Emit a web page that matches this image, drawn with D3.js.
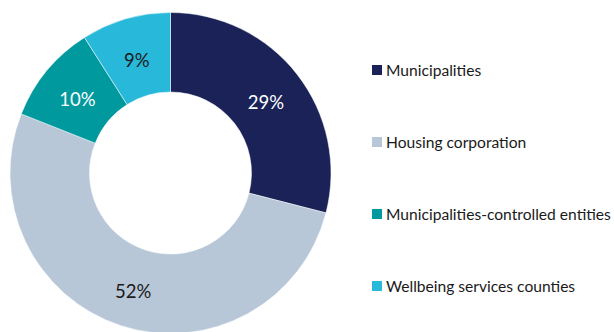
<!DOCTYPE html>
<html>
<head>
<meta charset="utf-8">
<script src="https://cdn.jsdelivr.net/npm/d3@7"></script>
<style>
  html, body { margin: 0; padding: 0; background: #ffffff; }
  svg { display: block; }
  text { font-family: Lato, "Open Sans", sans-serif; }
</style>
</head>
<body>
<svg id="chart" width="614" height="332"></svg>
<script>
// Share of investments by owner group (percent)
const categories = [
  "Municipalities",
  "Housing corporation",
  "Municipalities-controlled entities",
  "Wellbeing services counties"
];
const shares = [29, 52, 10, 9];
const colors = ["#1a2258", "#b8c7d7", "#00999d", "#28b8da"];
const labelColors = ["#ffffff", "#1a1a1a", "#ffffff", "#1a1a1a"];

const svg = d3.select("#chart");

const cx = 170.5, cy = 173;
const outerR = 160.5, innerR = 81;

const data = categories.map((c, i) => ({ name: c, value: shares[i], i }));

const pie = d3.pie()
  .value(d => d.value)
  .sort(null);

const arc = d3.arc().innerRadius(innerR).outerRadius(outerR);
const midR = (innerR + outerR) / 2;
const labelArc = d3.arc().innerRadius(midR).outerRadius(midR);

const color = d3.scaleOrdinal().domain(categories).range(colors);

const g = svg.append("g").attr("transform", `translate(${cx},${cy})`);
const arcs = pie(data);

g.selectAll("path.slice")
  .data(arcs)
  .join("path")
  .attr("class", "slice")
  .attr("d", arc)
  .attr("fill", d => color(d.data.name))
  .attr("stroke", "#ffffff")
  .attr("stroke-width", 0.5);

g.selectAll("text.value")
  .data(arcs)
  .join("text")
  .attr("class", "value")
  .attr("transform", d => {
    const [x, y] = labelArc.centroid(d);
    return `translate(${x},${y + 3})`;
  })
  .attr("text-anchor", "middle")
  .attr("dominant-baseline", "central")
  .attr("font-size", 18.5)
  .attr("fill", d => labelColors[d.data.i])
  .text(d => `${d.data.value}%`);

// Legend
const legendY = d3.scalePoint()
  .domain(categories)
  .range([70, 286]);

const legend = svg.append("g").attr("transform", "translate(372,0)");
const items = legend.selectAll("g.item")
  .data(categories)
  .join("g")
  .attr("class", "item")
  .attr("transform", d => `translate(0,${legendY(d)})`);

items.append("rect")
  .attr("x", 0)
  .attr("y", -5)
  .attr("width", 10)
  .attr("height", 10)
  .attr("fill", d => color(d));

items.append("text")
  .attr("x", 14)
  .attr("y", 0)
  .attr("dominant-baseline", "central")
  .attr("font-size", 15.6)
  .attr("fill", "#1a1a1a")
  .text(d => d);
</script>
</body>
</html>
